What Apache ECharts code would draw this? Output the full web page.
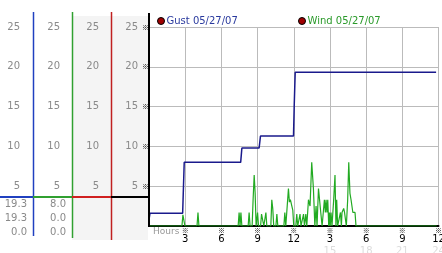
<!DOCTYPE html>
<html><head><meta charset="utf-8">
<script src="https://cdn.jsdelivr.net/npm/echarts@6/dist/echarts.min.js"></script>
<style>html,body{margin:0;padding:0;background:#fff}#c{width:442px;height:253px}</style>
</head><body><div id="c"></div>
<script>
const gustName = 'Gust 05/27/07';
const windName = 'Wind 05/27/07';
const yTicks = [0, 5, 10, 15, 20, 25];
const hourLabels = ['', '3', '6', '9', '12', '3', '6', '9', '12'];
const hourLabels24 = ['', '', '', '', '', '15', '18', '21', '24'];
const gustStats = ['19.3', '19.3', '0.0'];
const windStats = ['8.0', '0.0', '0.0'];
const gustData = [[0,0.8],[0.08,1.6],[2.79,1.6],[2.92,8.0],[7.6,8.0],[7.7,9.8],[9.13,9.8],[9.24,11.3],[11.98,11.3],[12.04,15.2],[12.12,19.3],[23.8,19.3]];
const windData = [
[0,0],[2.73,0],[2.81,1.4],[2.9,1.4],[2.98,0],
[3.98,0],[4.06,1.7],[4.14,0],
[7.39,0],[7.47,1.7],[7.55,0],[7.62,1.7],[7.7,0],
[8.22,0],[8.3,1.7],[8.38,0],
[8.55,0],[8.63,3.3],[8.72,6.4],[8.8,4.1],[8.88,0],
[8.92,0],[9.0,1.7],[9.08,0],
[9.25,0],[9.33,1.5],[9.44,1.7],[9.52,0],
[9.61,0],[9.69,1.7],[9.77,0],
[10.1,0],[10.18,3.3],[10.26,2.2],[10.34,0],
[10.52,0],[10.6,1.5],[10.68,0],
[11.18,0],[11.26,1.7],[11.34,0],
[11.48,0],[11.56,4.7],[11.64,3.0],[11.72,3.3],[11.84,3.3],[11.92,2.0],[12.0,0],
[12.17,0],[12.25,1.5],[12.33,0],[12.44,0],[12.52,1.5],[12.6,0],
[12.73,0],[12.81,1.5],[12.89,0],[12.92,0],[13.0,1.5],[13.08,0],
[13.14,0],[13.22,3.3],[13.35,2.5],[13.49,8.0],[13.63,4.7],[13.75,0],[13.85,2.5],[13.93,0],
[14.05,4.7],[14.14,3.3],[14.24,1.7],[14.35,0],
[14.46,0],[14.54,3.3],[14.62,1.7],[14.68,3.3],[14.75,1.7],[14.82,3.3],[14.9,0],[14.96,1.7],[15.02,0],[15.09,1.7],[15.17,0],
[15.23,0],[15.31,3.3],[15.42,6.4],[15.5,0],[15.56,3.3],[15.64,0],
[15.79,0],[15.87,1.7],[15.95,0],[16.0,1.7],[16.07,1.7],[16.14,2.2],[16.21,1.7],[16.28,1.7],[16.36,0],
[16.4,0],[16.47,3.3],[16.56,8.0],[16.66,4.1],[16.75,3.3],[16.83,3.3],[16.9,1.7],[16.97,1.7],[17.08,1.7],[17.16,0],
[23.85,0]
];

const FONT = 'DejaVu Sans';
const MARK = '"Noto Sans CJK JP"';
const chart = echarts.init(document.getElementById('c'), null, {renderer:'canvas'});
const numFmt = v => v === 0 ? '' : String(v);
function colAxis(offset, margin) {
  return {type:'value', position:'left', offset:offset, min:0, max:25, interval:5,
    axisLine:{show:false}, axisTick:{show:false}, splitLine:{show:false},
    axisLabel:{margin:margin, color:'#8a8a8a', fontFamily:FONT, fontSize:10, formatter:numFmt}};
}
const graphics = [
  {type:'rect', shape:{x:72, y:16, width:76, height:224}, style:{fill:'#f4f4f4'}, z:-10},
  {type:'line', shape:{x1:33.5, y1:12, x2:33.5, y2:236}, style:{stroke:'#2040c0', lineWidth:1.5}},
  {type:'line', shape:{x1:72.5, y1:12, x2:72.5, y2:238}, style:{stroke:'#30a030', lineWidth:1.5}},
  {type:'line', shape:{x1:111.5, y1:12, x2:111.5, y2:240}, style:{stroke:'#c02020', lineWidth:1.5}},
  {type:'line', shape:{x1:149, y1:13, x2:149, y2:227}, style:{stroke:'#000', lineWidth:2}, z:10},
  {type:'line', shape:{x1:0, y1:197, x2:33, y2:197}, style:{stroke:'#2040c0', lineWidth:2}},
  {type:'line', shape:{x1:33, y1:197, x2:72, y2:197}, style:{stroke:'#30a030', lineWidth:2}},
  {type:'line', shape:{x1:72, y1:197, x2:111, y2:197}, style:{stroke:'#d02020', lineWidth:2}},
  {type:'line', shape:{x1:111, y1:197, x2:149, y2:197}, style:{stroke:'#000', lineWidth:2}},
  {type:'text', left:153, top:227, style:{text:'Hours', fill:'#999', font:'9px "DejaVu Sans"'}}
];
const rowsY = [204.5, 218.5, 232];
gustStats.forEach((s,i)=>graphics.push({type:'text', x:27, y:rowsY[i], style:{text:s, fill:'#8a8a8a', font:'10px "DejaVu Sans"', textAlign:'right', textVerticalAlign:'middle'}}));
windStats.forEach((s,i)=>graphics.push({type:'text', x:66, y:rowsY[i], style:{text:s, fill:'#8a8a8a', font:'10px "DejaVu Sans"', textAlign:'right', textVerticalAlign:'middle'}}));

const legendBase = {icon:'circle', itemWidth:7, itemHeight:7, padding:0, top:16,
  textStyle:{fontFamily:FONT, fontSize:10, padding:[0,0,0,-3]}, itemStyle:{color:'#a00000', borderColor:'#000', borderWidth:1}};

chart.setOption({
  animation:false,
  backgroundColor:'#fff',
  grid:{left:149, right:3.5, top:27, bottom:27, containLabel:false, outerBoundsMode:'none'},
  legend:[
    Object.assign({}, legendBase, {data:[{name:gustName, textStyle:{color:'#2a3a9e'}}], left:157}),
    Object.assign({}, legendBase, {data:[{name:windName, textStyle:{color:'#2a9a2a'}}], left:298})
  ],
  xAxis:{type:'value', min:0, max:24, interval:3,
    axisLine:{show:true, onZero:false, lineStyle:{color:'#000', width:2}},
    axisTick:{show:false},
    splitLine:{show:true, lineStyle:{color:'#bbbbbb', width:1}},
    axisLabel:{margin:1, showMinLabel:true, showMaxLabel:true, formatter:function(v){
      const i = Math.round(v/3);
      if (!hourLabels[i]) return '';
      let s = '{m|※}\n{n|' + hourLabels[i] + '}';
      if (hourLabels24[i]) s += '\n{g|' + hourLabels24[i] + '}';
      return s;
    }, rich:{
      m:{fontSize:7, lineHeight:7, color:'#000', fontFamily:MARK},
      n:{fontSize:10, lineHeight:11, color:'#000', fontFamily:FONT},
      g:{fontSize:10, lineHeight:12, color:'#dcdcdc', fontFamily:FONT}
    }}
  },
  yAxis:[
    {type:'value', position:'left', min:0, max:25, interval:5,
      axisLine:{show:false}, axisTick:{show:false},
      splitLine:{show:true, lineStyle:{color:'#bbbbbb', width:1}},
      axisLabel:{margin:0, fontSize:7, color:'#000', fontFamily:MARK, formatter:v=> v===0?'':'※'}},
    colAxis(0, 11), colAxis(38, 12), colAxis(77, 12), colAxis(116, 13)
  ],
  series:[
    {name:gustName, type:'line', data:gustData, showSymbol:false, symbol:'circle', lineStyle:{color:'#1a1a8c', width:1.5}, itemStyle:{color:'#a00000'}, z:5},
    {name:windName, type:'line', data:windData, showSymbol:false, symbol:'circle', lineStyle:{color:'#22aa22', width:1.2}, itemStyle:{color:'#a00000'}, z:4}
  ],
  graphic:graphics
});
</script></body></html>
